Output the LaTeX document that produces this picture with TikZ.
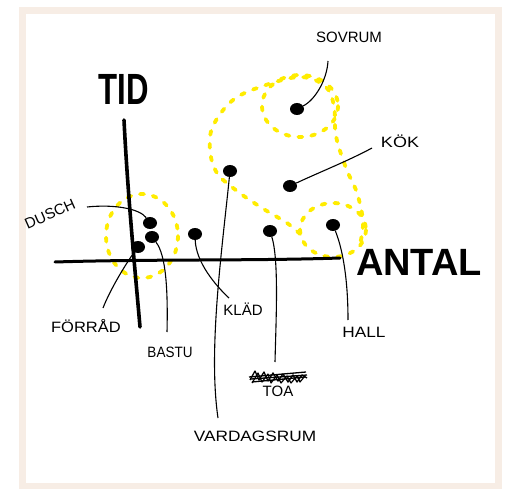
\documentclass[tikz,border=0pt]{standalone}
\usepackage{fontspec}
\setmainfont{Liberation Sans}
\usetikzlibrary{positioning,shapes.geometric}
\definecolor{sketchYellow}{RGB}{255,236,0}
\definecolor{frameBeige}{RGB}{247,237,229}

\begin{document}
\begin{tikzpicture}[
  x=1pt, y=-1pt,
  dot/.style={ellipse, fill=black, inner sep=0pt,
    minimum width=14pt, minimum height=12pt},
  lead/.style={line width=1.1pt, black},
  axis/.style={line width=3.6pt, line cap=round, black},
  zone/.style={sketchYellow, line width=3.8pt, line cap=round,
    dash pattern=on 4pt off 9pt},
  lbl/.style={font=\fontsize{15}{15}\selectfont, inner sep=0pt},
  big/.style={font=\bfseries\fontsize{38}{38}\selectfont, inner sep=0pt}
]
  \useasboundingbox (0,0) rectangle (506,489);
  \draw[frameBeige, line width=7pt] (22.5,11) rectangle (498.5,486);

  % yellow zones
  \draw[zone] (142,236) ellipse [x radius=36, y radius=42];
  \draw[zone] (300,106) ellipse [x radius=38, y radius=31];
  \draw[zone] (333,230) ellipse [x radius=33, y radius=27];
  \draw[zone] plot[smooth, tension=0.6] coordinates {
    (300,234) (287,223) (262,208) (237,191) (217,173) (210,150)
    (213,126) (233,100) (263,86) (300,77) (325,86) (334,106)
    (336,136) (346,168) (357,193) (363,222) (360,244)};

  % axes
  \draw[axis] (124,120) .. controls (128,200) and (136,280) .. (140,327);
  \draw[axis, line width=3pt] (55,262) .. controls (150,259) and (250,261) .. (340,258);
  \node[big, xscale=0.82, yscale=1.15] (tid) at (124,89) {TID};
  \node[big] (antal) at (419,262) {ANTAL};

  % rooms
  \foreach \n/\x/\y in {sovrum/297/109, kok/290/186, vardag/230/171,
    dusch/150/223, bastu/152/237, forrad/138/247, klad/195/234,
    toa/270/231, hall/333/225}
    \node[dot] (\n) at (\x,\y) {};

  \coordinate (sovrumEnd) at (328,61);
  \coordinate (kokEnd) at (372,148);
  \coordinate (vardagEnd) at (218,418);
  \coordinate (duschEnd) at (87,207);
  \coordinate (bastuEnd) at (167,332);
  \coordinate (forradEnd) at (103,308);
  \coordinate (kladEnd) at (229,298);
  \coordinate (toaEnd) at (275,362);
  \coordinate (hallEnd) at (348,320);

  \draw[lead] (sovrum) .. controls (315,100) and (327,80) .. (sovrumEnd);
  \draw[lead] (kok) .. controls (320,172) and (350,160) .. (kokEnd);
  \draw[lead] (vardag) .. controls (222,250) and (208,350) .. (vardagEnd);
  \draw[lead] (dusch) .. controls (140,209) and (115,204) .. (duschEnd);
  \draw[lead] (bastu) .. controls (166,255) and (168,290) .. (bastuEnd);
  \draw[lead] (forrad) .. controls (125,265) and (110,290) .. (forradEnd);
  \draw[lead] (klad) .. controls (196,262) and (215,285) .. (kladEnd);
  \draw[lead] (toa) .. controls (279,260) and (276,320) .. (toaEnd);
  \draw[lead] (hall) .. controls (343,250) and (348,280) .. (hallEnd);

  \node[lbl] (sovrumTxt) at (349,37) {SOVRUM};
  \node[lbl, xscale=1.2] (kokTxt) at (400,141) {KÖK};
  \node[lbl, xscale=1.15] (vardagTxt) at (255,436) {VARDAGSRUM};
  \node[lbl, rotate=24] (duschTxt) at (50,214) {DUSCH};
  \node[lbl, xscale=1.1] (forradTxt) at (86,326) {FÖRRÅD};
  \node[lbl, xscale=0.9] (bastuTxt) at (170,352) {BASTU};
  \node[lbl] (kladTxt) at (243,309) {KLÄD};
  \node[lbl] (toaTxt) at (278,391) {TOA};
  \node[lbl, xscale=1.15] (hallTxt) at (364,332) {HALL};

  % crossed-out word above TOA
  \draw[line width=1.3pt, line join=round]
    (250,380) -- (255,371) -- (259,380) -- (264,372)
    -- (268,381) -- (273,373) -- (278,381) -- (283,374) -- (288,382)
    -- (293,375) -- (297,382) -- (302,375) -- (307,378);
  \draw[line width=1.2pt, line join=round]
    (252,383) -- (258,373) -- (262,382) -- (268,374) -- (271,383)
    -- (277,375) -- (281,383) -- (287,376) -- (291,383) -- (297,376)
    -- (300,382) -- (305,376);
  \draw[line width=1.3pt] (249,377) -- (306,372) (252,382) -- (305,377)
    (251,379) -- (307,375);
\end{tikzpicture}
\end{document}
